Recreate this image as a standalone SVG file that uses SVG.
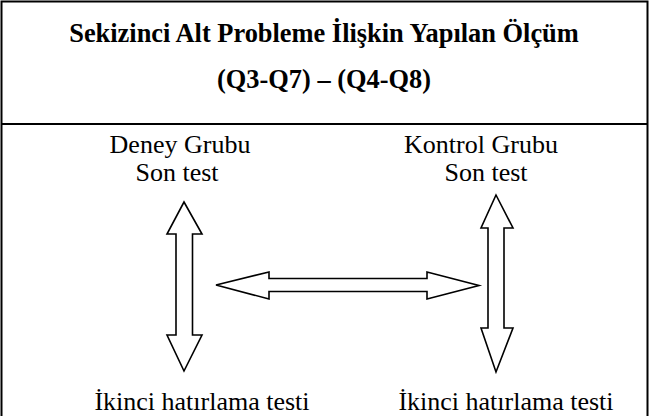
<svg xmlns="http://www.w3.org/2000/svg" width="649" height="416" viewBox="0 0 649 416">
<style>
.t{font-family:"Liberation Serif","Times New Roman",serif;font-size:26px;fill:#000;text-anchor:middle}
.b{font-weight:bold;font-size:26.4px}
.frame{stroke:#000;stroke-width:2;fill:none}
.arr{fill:#fff;stroke:#000;stroke-width:1.6;stroke-linejoin:miter}
</style>
<rect width="649" height="416" fill="#fff"/>
<g id="frame">
<path class="frame" d="M1.5,416 V1.5 H647.5 V416"/>
<line class="frame" x1="1.5" y1="124" x2="647.5" y2="124"/>
</g>
<g id="title">
<text class="t b" x="324" y="42">Sekizinci Alt Probleme İlişkin Yapılan Ölçüm</text>
<text class="t b" x="324" y="88">(Q3-Q7) – (Q4-Q8)</text>
</g>
<g id="deney-son">
<text class="t" x="180" y="153">Deney Grubu</text>
<text class="t" x="177" y="181">Son test</text>
</g>
<g id="kontrol-son">
<text class="t" x="481" y="153">Kontrol Grubu</text>
<text class="t" x="486" y="181">Son test</text>
</g>
<g id="deney-ikinci">
<text class="t" x="202" y="410">İkinci hatırlama testi</text>
</g>
<g id="kontrol-ikinci">
<text class="t" x="506" y="410">İkinci hatırlama testi</text>
</g>
<g id="connectors">
<polygon class="arr" points="184,202 202,234 192.5,234 192.5,335 202,335 184,371 167,335 176,335 176,234 167,234"/>
<polygon class="arr" points="496,195 513,228 504,228 504,328 513,328 496,372 481,328 488,328 488,228 481,228"/>
<polygon class="arr" points="216,285 269,272 269,278.5 427,278.5 427,272 479,285.5 427,299 427,291.5 269,291.5 269,299"/>
</g>
</svg>
